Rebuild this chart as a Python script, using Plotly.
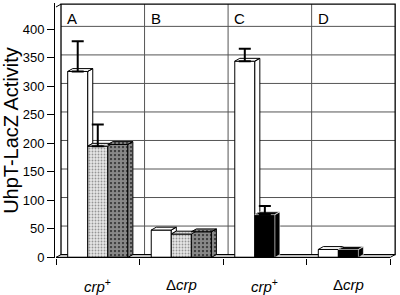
import plotly.graph_objects as go

# ---------------- data ----------------
panels = ["A", "B", "C", "D"]
genotypes = ["<i>crp</i><sup>+</sup>", "Δ<i>crp</i>", "<i>crp</i><sup>+</sup>", "Δ<i>crp</i>"]
series1 = [326, 48, 344, 14]          # white bars
series1_err = [53, None, 22, None]
series2 = [195, 41, 75, 14]           # gray (A,B) / black (C,D)
series2_err = [38, None, 15, None]
series3 = [198, 45, None, None]       # checkered (A,B only)
y_ticks = [0, 50, 100, 150, 200, 250, 300, 350, 400]

# ---------------- styling / geometry ----------------
FONT = "Liberation Sans, Arial, sans-serif"
centers = [i + 0.5 for i in range(len(panels))]
W = 0.24                      # bar width (category units)
DX, DY = 0.06, 5.0            # oblique depth offset
YTOP = 444
offsets = [-1.5 * W, -0.5 * W, 0.5 * W]
styles2 = ["gray", "gray", "black", "black"]

STY = {
    "white": dict(color="white", shape="", fg="black", size=3, sol=0.3),
    "gray": dict(color="#e6e6e6", shape=".", fg="#8a8a8a", size=3, sol=0.3),
    "check": dict(color="#111111", shape=".", fg="white", size=4, sol=0.8),
    "black": dict(color="black", shape="", fg="black", size=3, sol=0.3),
}

fig = go.Figure()

# front faces as bars
all_series = [series1, series2, series3]
kinds = [["white"] * 4, styles2, ["check"] * 4]
for si, (vals, kk) in enumerate(zip(all_series, kinds)):
    fig.add_trace(go.Bar(
        x=centers, y=vals, width=W, offset=offsets[si],
        marker=dict(color=[STY[k]["color"] for k in kk], line=dict(color="black", width=1),
                    pattern=dict(shape=[STY[k]["shape"] for k in kk],
                                 fgcolor=[STY[k]["fg"] for k in kk],
                                 size=STY[kk[0]]["size"], solidity=STY[kk[0]]["sol"],
                                 fillmode="overlay")),
        showlegend=False, hoverinfo="skip"))

# 3-D top and side faces computed from the same values
polys = {}
for si, (vals, kk) in enumerate(zip(all_series, kinds)):
    for ci, v in enumerate(vals):
        if v is None:
            continue
        x0 = centers[ci] + offsets[si]
        x1 = x0 + W
        faces = [([x0, x1, x1 + DX, x0 + DX, x0], [v, v, v + DY, v + DY, v])]
        nb = 0
        if si + 1 < len(all_series) and all_series[si + 1][ci] is not None:
            nb = all_series[si + 1][ci]
        if nb < v:
            faces.append(([x1, x1, x1 + DX, x1 + DX, x1], [nb, v, v + DY, nb + DY, nb]))
        px, py = polys.setdefault(kk[ci], ([], []))
        for fx, fy in faces:
            px += fx + [None]
            py += fy + [None]

for key, (px, py) in polys.items():
    st = STY[key]
    kw = {}
    if st["shape"]:
        kw["fillpattern"] = dict(shape=st["shape"], fgcolor=st["fg"], bgcolor=st["color"],
                                 size=st["size"], solidity=st["sol"], fillmode="overlay")
    fig.add_trace(go.Scatter(
        x=px, y=py, mode="lines", fill="toself", fillcolor=st["color"],
        line=dict(color="white" if key == "black" else "black", width=0.6 if key == "black" else 1),
        showlegend=False, hoverinfo="skip", **kw))

# error bars (upper only)
for si, (vals, errs) in enumerate([(series1, series1_err), (series2, series2_err)]):
    ex, ey, ee = [], [], []
    for ci, (v, e) in enumerate(zip(vals, errs)):
        if e is None:
            continue
        ex.append(centers[ci] + offsets[si] + W / 2)
        ey.append(v)
        ee.append(e)
    fig.add_trace(go.Scatter(
        x=ex, y=ey, mode="markers", marker=dict(size=1, color="rgba(0,0,0,0)"),
        error_y=dict(type="data", array=ee, arrayminus=[0] * len(ee), symmetric=False,
                     color="black", thickness=2, width=6),
        showlegend=False, hoverinfo="skip"))

# back wall, grid, floor
shapes = []
for v in y_ticks[1:]:
    shapes.append(dict(type="line", xref="x", yref="y", x0=DX, x1=len(panels) + DX, y0=v + DY, y1=v + DY,
                       line=dict(color="#555", width=1), layer="below"))
for k in range(1, len(panels)):
    shapes.append(dict(type="line", xref="x", yref="y", x0=k + DX, x1=k + DX, y0=DY, y1=YTOP,
                       line=dict(color="#555", width=1), layer="below"))
shapes.append(dict(type="rect", xref="x", yref="y", x0=DX, x1=len(panels) + DX, y0=DY, y1=YTOP,
                   line=dict(color="black", width=1.3), layer="below"))
shapes.append(dict(type="line", xref="x", yref="y", x0=0, x1=DX, y0=0, y1=DY,
                   line=dict(color="black", width=1), layer="below"))
shapes.append(dict(type="line", xref="x", yref="y", x0=0, x1=DX, y0=YTOP - DY, y1=YTOP,
                   line=dict(color="black", width=1), layer="below"))
shapes.append(dict(type="line", xref="x", yref="y", x0=len(panels), x1=len(panels) + DX, y0=0, y1=DY,
                   line=dict(color="black", width=1), layer="below"))
shapes.append(dict(type="line", xref="x", yref="y", x0=0, x1=len(panels), y0=0, y1=0,
                   line=dict(color="black", width=1.3), layer="above"))

annotations = []
for k, p in enumerate(panels):
    annotations.append(dict(x=k + 0.11, y=418, xref="x", yref="y", text=p, showarrow=False,
                            xanchor="left", yanchor="middle", font=dict(size=15, color="black", family=FONT)))
for c, g in zip(centers, genotypes):
    annotations.append(dict(x=c, y=0, xref="x", yref="paper", text=g, showarrow=False,
                            xanchor="center", yanchor="top", yshift=-16,
                            font=dict(size=15, color="black", family=FONT)))

fig.update_layout(
    width=400, height=295,
    margin=dict(l=55, r=4.2, t=2.8, b=37.4),
    paper_bgcolor="white", plot_bgcolor="white",
    barmode="overlay",
    font=dict(family=FONT, color="black"),
    shapes=shapes, annotations=annotations,
    xaxis=dict(range=[-0.012, 4.07], tickvals=[0, 1, 2, 3, 4], showticklabels=False,
               ticks="outside", ticklen=6, tickcolor="black", showgrid=False, zeroline=False,
               showline=False, fixedrange=True),
    yaxis=dict(range=[-1, 446], tickvals=y_ticks, ticks="outside", ticklen=7, tickcolor="black",
               showline=True, linecolor="black", linewidth=1, showgrid=False, zeroline=False,
               tickfont=dict(size=13, family=FONT, color="black"),
               title=dict(text="UhpT-LacZ Activity", font=dict(size=20, family=FONT, color="black"),
                          standoff=6), fixedrange=True),
)

fig.write_html("out.html", config={"displayModeBar": False},
               post_script="document.body.style.margin='0px';document.body.style.padding='0px';")
